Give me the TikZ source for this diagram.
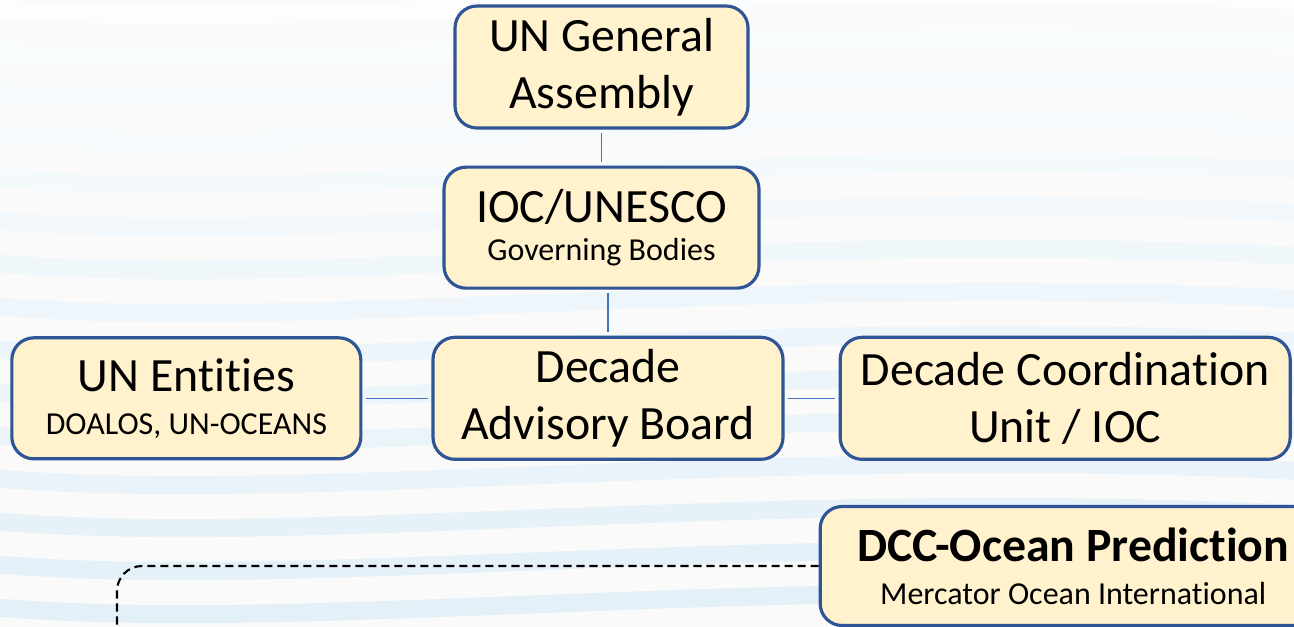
\documentclass[tikz,border=0pt]{standalone}
\usepackage{fontspec}
\setmainfont{Carlito}[Ligatures=NoCommon]
\usetikzlibrary{positioning}
\definecolor{boxfill}{HTML}{FFF2CC}
\definecolor{boxline}{HTML}{2F5597}
\definecolor{linkblue}{HTML}{4472C4}
\definecolor{wavecol}{HTML}{E2EFF7}
\newcommand{\orgsub}[1]{{\fontsize{9.1}{11}\selectfont #1}}
\tikzset{
    %Define style for boxes
    orgbox/.style={
           rectangle,
           rounded corners=0.22cm,
           draw=boxline, line width=0.9pt,
           fill=boxfill,
           minimum width=3.5cm,
           minimum height=1.21cm,
           inner sep=0pt,
           font=\fontsize{13.6}{16.2}\selectfont,
           align=center},
    % Define connector styles
    link/.style={
           draw=linkblue, line width=0.45pt,
           shorten <=1pt,
           shorten >=1pt},
    dashlink/.style={
           draw=black, line width=0.6pt,
           dash pattern=on 2.3pt off 1.4pt,
           rounded corners=0.25cm},
    wave/.style={
           line width=0.18cm}
}
\begin{document}
\begin{tikzpicture}[node distance=1cm]
\useasboundingbox (0,-6.27) rectangle (12.94,0);
\fill[white!98!black] (0,-6.27) rectangle (12.94,0);
% background waves
\foreach \y/\c in {0.07/14,0.5/20,0.9/26,1.33/32,1.76/38,2.19/44,2.62/50,3.05/55,3.48/60,3.91/65,4.34/70,4.77/76,5.2/82,5.63/88,6.06/92}
  \draw[wave, wavecol!\c!white] (-0.2,-\y) .. controls (3,-\y-0.3) and (7.5,-\y+0.35) .. (13.2,-\y+0.05);
% nodes
\node[orgbox, minimum width=2.93cm, minimum height=1.22cm] (ga) at (6.015,-0.67) {UN General\\Assembly};
\node[orgbox, minimum width=3.15cm, below=0.36 of ga] (ioc) {IOC/UNESCO\\[-5.2pt]\orgsub{Governing Bodies}};
\node[orgbox, minimum height=1.22cm, below=0.46 of ioc, xshift=0.065cm] (dab) {Decade\\Advisory Board};
\node[orgbox, minimum width=3.49cm, left=0.69 of dab] (unent) {UN Entities\\[-4pt]\orgsub{DOALOS, UN-OCEANS}};
\node[orgbox, minimum width=4.5cm, minimum height=1.22cm, right=0.54 of dab] (dcu) {Decade Coordination\\Unit / IOC};
\node[orgbox, minimum width=5.06cm, minimum height=1.19cm, below=0.44 of dcu, xshift=0.08cm] (dcc) {\textbf{DCC-Ocean Prediction}\\[-4pt]\orgsub{Mercator Ocean International}};
\coordinate (dccend) at (1.17,-6.35);
% connectors
\draw[link] (ga) -- (ioc);
\draw[link] (dab.north) -- (dab.north |- ioc.south);
\draw[link] (unent) -- (dab);
\draw[link] (dab) -- (dcu);
\draw[dashlink] (dcc.west) -| (dccend);
\end{tikzpicture}
\end{document}
